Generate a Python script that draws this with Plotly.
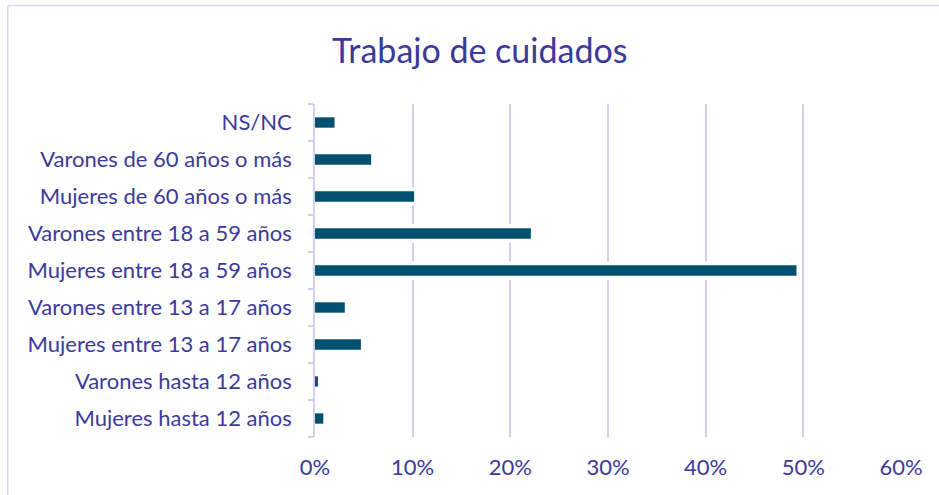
import plotly.graph_objects as go

categories = [
    "Mujeres hasta 12 años",
    "Varones hasta 12 años",
    "Mujeres entre 13 a 17 años",
    "Varones entre 13 a 17 años",
    "Mujeres entre 18 a 59 años",
    "Varones entre 18 a 59 años",
    "Mujeres de 60 años o más",
    "Varones de 60 años o más",
    "NS/NC",
]
values = [0.85, 0.3, 4.7, 3.05, 49.3, 22.1, 10.15, 5.75, 2.0]
x_ticks = [0, 10, 20, 30, 40, 50, 60]
x_tick_labels = ["0%", "10%", "20%", "30%", "40%", "50%", "60%"]

TEXT = "#3b3a9c"
BAR = "#02506f"
GRID = "#d3cff1"
FONT = "Lato"

# body margin is removed below, so the figure fills the window from (0, 0)
W, H = 939, 495
L, R, T, B = 314.5, 38, 104, 58
PW = W - L - R
PH = H - T - B


def px_x(p):
    return (p - L) / PW


def px_y(p):
    return 1 - (p - T) / PH


fig = go.Figure()
# white halo behind bars (breaks gridlines around the bars)
fig.add_trace(go.Bar(
    y=categories, x=values, orientation="h", width=0.28,
    marker=dict(color="white", line=dict(color="white", width=8)),
    hoverinfo="skip", showlegend=False,
))
fig.add_trace(go.Bar(
    y=categories, x=values, orientation="h", width=0.28,
    marker=dict(color=BAR, line=dict(width=0)),
    showlegend=False,
))

fig.update_layout(
    width=W, height=H,
    margin=dict(l=L, r=R, t=T, b=B),
    paper_bgcolor="white", plot_bgcolor="white",
    barmode="overlay",
    font=dict(family=FONT, color=TEXT, size=22),
    annotations=[dict(
        text="Trabajo de cuidados", xref="paper", yref="paper",
        x=px_x(479), y=px_y(50), xanchor="center", yanchor="middle",
        showarrow=False, font=dict(family=FONT, size=34, color=TEXT),
    )],
    shapes=[
        dict(type="line", xref="paper", yref="paper",
             x0=px_x(7), x1=px_x(7), y0=px_y(5.5), y1=px_y(510),
             line=dict(color="#d9d5f3", width=1.5)),
        dict(type="line", xref="paper", yref="paper",
             x0=px_x(7), x1=px_x(960), y0=px_y(5.5), y1=px_y(5.5),
             line=dict(color="#d9d5f3", width=1.5)),
    ],
)
fig.update_xaxes(
    range=[0, 60], tickvals=x_ticks, ticktext=x_tick_labels,
    showgrid=True, gridcolor=GRID, gridwidth=1.7,
    zeroline=False, showline=False, ticks="",
    tickfont=dict(size=22, color=TEXT),
    ticklabelstandoff=15,
)
fig.update_yaxes(
    type="category", categoryorder="array", categoryarray=categories,
    showline=True, linecolor=GRID, linewidth=1.7,
    ticks="outside", tickson="boundaries", ticklen=5, tickcolor=GRID, tickwidth=1.5,
    showgrid=False, tickfont=dict(size=22, color=TEXT),
    ticklabelstandoff=17,
)

fig.write_html(
    "out.html",
    config={"displayModeBar": False},
    post_script="document.body.style.margin='0';document.body.style.overflow='hidden';",
)
